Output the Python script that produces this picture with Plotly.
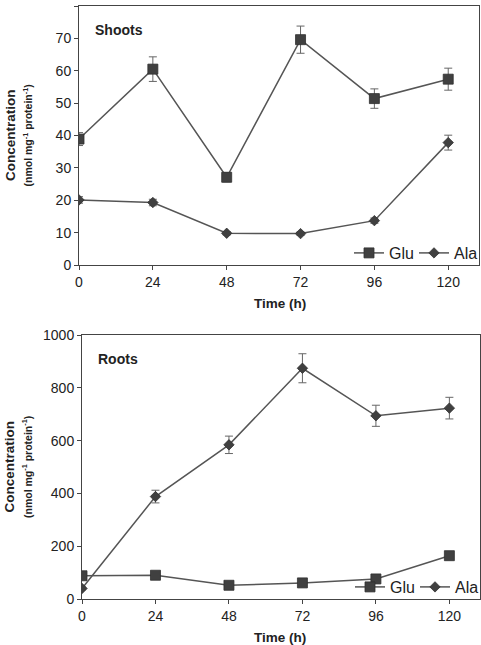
import plotly.graph_objects as go

time_h = [0, 24, 48, 72, 96, 120]

shoot_glu = [38.9, 60.5, 27.1, 69.6, 51.4, 57.4]
shoot_glu_err = [2.0, 3.8, 1.4, 4.2, 3.0, 3.4]
shoot_ala = [20.1, 19.3, 9.8, 9.7, 13.7, 37.8]
shoot_ala_err = [1.0, 1.0, 0.5, 0.5, 0.8, 2.3]

root_glu = [88, 90, 52, 61, 76, 164]
root_glu_err = [10, 8, 6, 6, 8, 15]
root_ala = [40, 388, 584, 874, 694, 723]
root_ala_err = [5, 24, 33, 55, 40, 41]

x_ticks = [0, 24, 48, 72, 96, 120]

FONT = "Liberation Sans, Arial, sans-serif"
MARK = "#404040"
LINE = "#555555"
ERR = "#666666"

fig = go.Figure()

def add(x, y, err, name, symbol, size, xa, ya, legend):
    fig.add_trace(go.Scatter(
        x=x, y=y, name=name, mode="lines+markers",
        xaxis=xa, yaxis=ya, legend=legend,
        line=dict(color=LINE, width=1.5),
        marker=dict(symbol=symbol, size=size, color=MARK,
                    line=dict(color="#303030", width=0.8)),
        error_y=dict(type="data", array=err, visible=True,
                     color=ERR, thickness=1, width=4),
    ))

add(time_h, shoot_glu, shoot_glu_err, "Glu", "square", 10, "x", "y", "legend")
add(time_h, shoot_ala, shoot_ala_err, "Ala", "diamond", 8, "x", "y", "legend")
add(time_h, root_glu, root_glu_err, "Glu", "square", 10, "x2", "y2", "legend2")
add(time_h, root_ala, root_ala_err, "Ala", "diamond", 8, "x2", "y2", "legend2")

W, H = 481, 645
L, R, T, B = 79, 1, 6, 46
pw = W - L - R
ph = H - T - B

def py(pix):
    return (H - B - pix) / ph

top_dom = [py(265), 1.0]
bot_dom = [0.0, py(335)]

axis_common = dict(
    showline=True, linecolor="#444444", linewidth=1, mirror=True,
    ticks="outside", ticklen=4, tickcolor="#444444",
    showgrid=False, zeroline=False,
    tickfont=dict(family=FONT, size=14, color="#222222"),
)

leg_common = dict(orientation="h", xanchor="right", yanchor="bottom",
                  bgcolor="rgba(0,0,0,0)",
                  font=dict(family=FONT, size=16, color="#222222"),
                  itemwidth=30, tracegroupgap=0, entrywidth=20,
                  entrywidthmode="pixels")

fig.update_layout(
    width=W, height=H,
    margin=dict(l=L, r=R, t=T, b=B, autoexpand=False),
    paper_bgcolor="white", plot_bgcolor="white",
    font=dict(family=FONT, color="#222222"),
    xaxis=dict(domain=[0, 400 / pw], range=[0, 130], tickvals=x_ticks,
               anchor="y", **axis_common),
    yaxis=dict(domain=top_dom, range=[0, 80], dtick=10, anchor="x", **axis_common),
    xaxis2=dict(domain=[3 / pw, 1], range=[0, 130], tickvals=x_ticks,
                anchor="y2", **axis_common),
    yaxis2=dict(domain=bot_dom, range=[0, 1000], dtick=200, anchor="x2", **axis_common),
    legend=dict(x=400 / pw, y=top_dom[0] - 5 / ph, **leg_common),
    legend2=dict(x=1.0, y=bot_dom[0] - 5 / ph, **leg_common),
)

ytitle = ("<b>Concentration</b><br><span style='font-size:10.5px'><b>(nmol mg<sup>-1</sup> "
          "protein<sup>-1</sup>)</b></span>")

for dom, label, xdom_start in [(top_dom, "Shoots", 0), (bot_dom, "Roots", 3 / pw)]:
    fig.add_annotation(xref="paper", yref="paper", x=0, y=(dom[0] + dom[1]) / 2,
                       xanchor="center", yanchor="middle", xshift=-61,
                       text=ytitle, textangle=-90, showarrow=False,
                       font=dict(family=FONT, size=13.5, color="#222222"))
    fig.add_annotation(xref="paper", yref="paper", x=0.5, y=dom[0],
                       xanchor="center", yanchor="top", yshift=-29,
                       text="<b>Time (h)</b>", showarrow=False,
                       font=dict(family=FONT, size=13.5, color="#222222"))
    fig.add_annotation(xref="paper", yref="paper", x=xdom_start, y=dom[1],
                       xanchor="left", yanchor="top", xshift=14, yshift=-14,
                       text="<b>" + label + "</b>", showarrow=False,
                       font=dict(family=FONT, size=14, color="#222222"))

fig.write_html("out.html", config={"displayModeBar": False},
               post_script="document.body.style.margin='0';document.body.style.overflow='hidden';")
